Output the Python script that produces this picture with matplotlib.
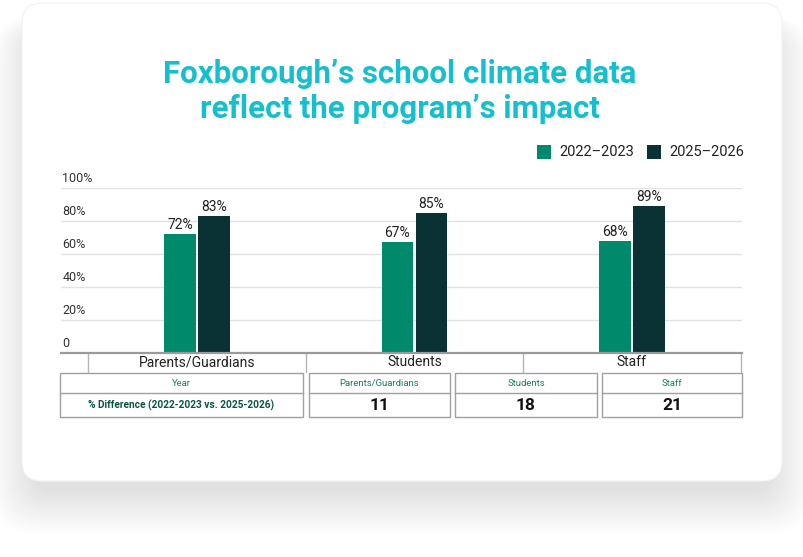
import matplotlib
matplotlib.use("Agg")
import matplotlib.pyplot as plt
import matplotlib.transforms as mtransforms
from matplotlib.patches import FancyBboxPatch, Rectangle
import numpy as np

# data
categories = ["Parents/Guardians", "Students", "Staff"]
series_names = ["2022\u20132023", "2025\u20132026"]
values_2022 = [72, 67, 68]
values_2025 = [83, 85, 89]
diff_values = [11, 18, 21]
y_ticks = [0, 20, 40, 60, 80, 100]
y_tick_labels = ["0", "20%", "40%", "60%", "80%", "100%"]
title_lines = ["Foxborough\u2019s school climate data", "reflect the program\u2019s impact"]
row_labels = ["Year", "% Difference (2022-2023 vs. 2025-2026)"]

GREEN = "#00896a"
DARK = "#0a3234"
CYAN = "#16bfcd"
TEAL_TXT = "#1b7a68"
TEAL_BOLD = "#0b5446"

W, H = 804, 557
fig = plt.figure(figsize=(W / 100, H / 100), dpi=100)
fig.patch.set_facecolor("white")

FONT = ["Roboto", "DejaVu Sans"]

# background axes in pixel units
bg = fig.add_axes([0, 0, 1, 1], zorder=0)
bg.set_xlim(0, W)
bg.set_ylim(H, 0)
bg.axis("off")

# soft shadow under the card
for i in range(30):
    g = i * 1.5
    bg.add_patch(FancyBboxPatch((22 + 12 - g, 3 + 30 - g * 0.4),
                                760 - 24 + 2 * g, 478 - 20 + g * 1.4,
                                boxstyle="round,pad=0,rounding_size=%d" % (20 + i),
                                fc="#000000", ec="none", alpha=0.0028))
card = FancyBboxPatch((22, 3), 760, 478, boxstyle="round,pad=0,rounding_size=20",
                      fc="white", ec="#f2f2f2", lw=0.8)
bg.add_patch(card)

# title
for k, line in enumerate(title_lines):
    bg.text(400, 74 + k * 35, line, ha="center", va="center", color=CYAN,
            fontsize=22.5, fontweight="bold", family=FONT)

# legend
leg_x = [537, 647]
for x0, name, col in zip(leg_x, series_names, [GREEN, DARK]):
    bg.add_patch(Rectangle((x0, 145), 14, 14, fc=col, ec="none"))
    bg.text(x0 + 22, 152.5, name, ha="left", va="center", fontsize=10.5,
            color="#222222", family=FONT)

# chart axes
ax_left, ax_right, ax_top, ax_bottom = 61, 742, 188, 353
ax = fig.add_axes([ax_left / W, (H - ax_bottom) / H, (ax_right - ax_left) / W,
                   (ax_bottom - ax_top) / H], zorder=2)
ax.patch.set_alpha(0)
x = np.arange(len(categories))
bw = 0.146
b1 = ax.bar(x - bw / 2 - 0.005, values_2022, bw, color=GREEN, zorder=3)
b2 = ax.bar(x + bw / 2 + 0.005, values_2025, bw, color=DARK, zorder=3)
ax.set_xlim(-0.625, 2.506)
ax.set_ylim(0, 100)
for s in ax.spines.values():
    s.set_visible(False)
ax.set_xticks([])
ax.set_yticks([])

for v in y_ticks[1:]:
    ax.axhline(v, color="#e2e2e2", lw=1, zorder=1)
ax.axhline(0, color="#9a9a9a", lw=1.6, zorder=4, clip_on=False)

ytrans = mtransforms.blended_transform_factory(ax.transAxes, ax.transData)
for v, lab in zip(y_ticks, y_tick_labels):
    ax.annotate(lab, (0.0, v), xycoords=ytrans, xytext=(1, 2.5),
                textcoords="offset points", ha="left", va="bottom",
                fontsize=9, color="#333333", family=FONT)

for bars in (b1, b2):
    for r in bars:
        ax.annotate("%d%%" % r.get_height(), (r.get_x() + r.get_width() / 2, r.get_height()),
                    xytext=(0, 1.5), textcoords="offset points", ha="center", va="bottom",
                    fontsize=10, color="#222222", family=FONT)

# category cells under the axis
xtrans = mtransforms.blended_transform_factory(ax.transData, ax.transAxes)
cell_bot = -(372 - 353) / (ax_bottom - ax_top)
for sep in np.arange(len(categories) + 1) - 0.5:
    ax.plot([sep, sep], [0, cell_bot], transform=xtrans, color="#b5b5b5", lw=1,
            clip_on=False)
for xi, cat in zip(x, categories):
    ax.text(xi, cell_bot / 2, cat, transform=xtrans, ha="center", va="center",
            fontsize=10, color="#222222", family=FONT)

# summary table
tbl_top, tbl_mid, tbl_bot = 373, 393, 417
cols = [(60, 303), (309, 450), (455, 597), (602, 742)]
headers = [row_labels[0]] + categories
bottoms = [row_labels[1]] + [str(d) for d in diff_values]
for j, ((c0, c1), h, b) in enumerate(zip(cols, headers, bottoms)):
    bg.add_patch(Rectangle((c0, tbl_top), c1 - c0, tbl_bot - tbl_top, fc="white",
                           ec="#a0a0a0", lw=1))
    bg.plot([c0, c1], [tbl_mid, tbl_mid], color="#a0a0a0", lw=1)
    cx = (c0 + c1) / 2
    bg.text(cx, (tbl_top + tbl_mid) / 2 + 0.5, h, ha="center", va="center",
            fontsize=6.8, color=TEAL_TXT, family=FONT)
    if j == 0:
        bg.text(cx, (tbl_mid + tbl_bot) / 2 + 0.5, b, ha="center", va="center",
                fontsize=7.3, fontweight="bold", color=TEAL_BOLD, family=FONT)
    else:
        bg.text(cx, (tbl_mid + tbl_bot) / 2 + 0.5, b, ha="center", va="center",
                fontsize=12.5, fontweight="bold", color="#111111", family=FONT)

fig.savefig("out.png", dpi=100, facecolor="white")
